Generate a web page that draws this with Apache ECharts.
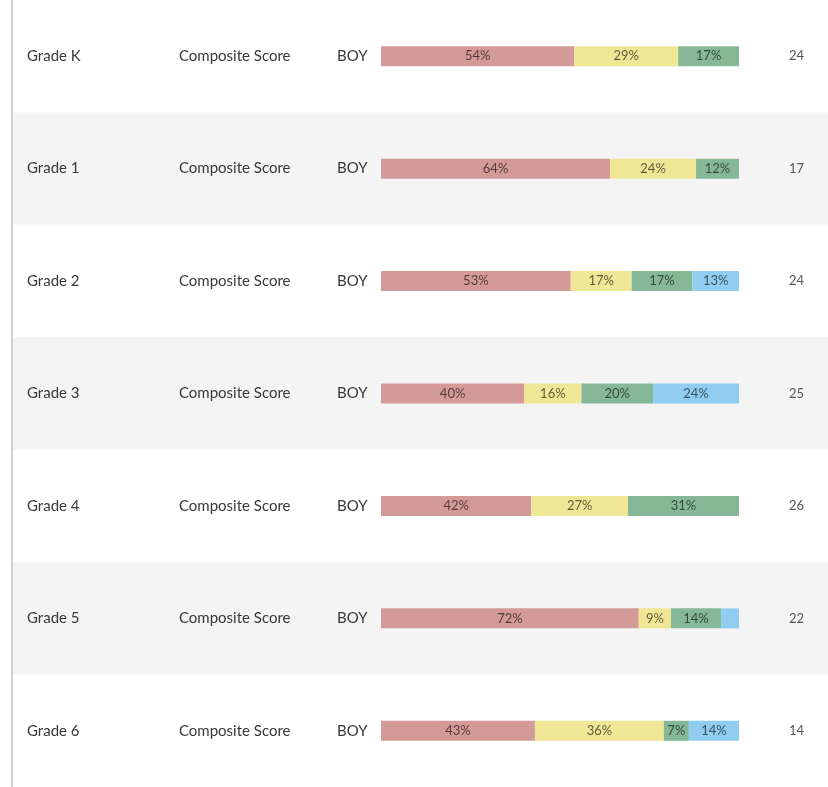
<!DOCTYPE html>
<html>
<head>
<meta charset="utf-8">
<script src="https://cdn.jsdelivr.net/npm/echarts@6/dist/echarts.min.js"></script>
<style>
  html, body { margin: 0; padding: 0; background: #fff; }
  #main { width: 828px; height: 787px; }
</style>
</head>
<body>
<div id="main"></div>
<script>
// rows of the table
const grades = ["Grade K", "Grade 1", "Grade 2", "Grade 3", "Grade 4", "Grade 5", "Grade 6"];
const measures = ["Composite Score", "Composite Score", "Composite Score", "Composite Score", "Composite Score", "Composite Score", "Composite Score"];
const periods = ["BOY", "BOY", "BOY", "BOY", "BOY", "BOY", "BOY"];
const counts = ["24", "17", "24", "25", "26", "22", "14"];

// percentage per level
const redVals = [54, 64, 53, 40, 42, 72, 43];
const yellowVals = [29, 24, 17, 16, 27, 9, 36];
const greenVals = [17, 12, 17, 20, 31, 14, 7];
const blueVals = [0, 0, 13, 24, 0, 5, 14];

const textFont = "Lato, 'Open Sans', sans-serif";

const myChart = echarts.init(document.getElementById("main"));

const labelCfg = {
  show: true,
  position: "inside",
  color: "rgba(0,0,0,0.62)",
  fontFamily: textFont,
  fontSize: 13,
  formatter: p => (p.value >= 6 ? p.value + "%" : "")
};

const mkSeries = (name, data, color) => ({
  name,
  type: "bar",
  stack: "total",
  xAxisIndex: 1,
  yAxisIndex: 1,
  barWidth: 20,
  data,
  itemStyle: { color },
  label: labelCfg,
  emphasis: { disabled: true }
});

// y axis used only to print a text column
const textAxis = (data, margin, position, color, size) => ({
  type: "category",
  gridIndex: 1,
  inverse: true,
  position,
  data,
  axisLine: { show: false },
  axisTick: { show: false },
  axisLabel: {
    margin,
    align: "left",
    color,
    fontFamily: textFont,
    fontSize: size
  }
});

const option = {
  animation: false,
  backgroundColor: "#fff",
  graphic: [
    {
      type: "rect",
      shape: { x: 11, y: 0, width: 2, height: 787 },
      style: { fill: "#d0d0d0" },
      silent: true
    },
    {
      type: "rect",
      shape: { x: 13, y: 3, width: 815, height: 1 },
      style: { fill: "#f0f0f0" },
      silent: true
    }
  ],
  grid: [
    { left: 13, right: 0, top: 0, height: 790 },
    { left: 381, right: 89, top: 0, height: 790 }
  ],
  xAxis: [
    { type: "value", gridIndex: 0, show: false, min: 0, max: 100 },
    { type: "value", gridIndex: 1, show: false, min: 0, max: 100 }
  ],
  yAxis: [
    {
      type: "category",
      gridIndex: 0,
      inverse: true,
      data: grades,
      axisLine: { show: false },
      axisTick: { show: false },
      axisLabel: { show: false },
      splitArea: { show: true, interval: 0, areaStyle: { color: ["#ffffff", "#f4f4f4"] } }
    },
    textAxis(grades, 354, "left", "#383838", 15),
    textAxis(measures, 202, "left", "#383838", 15),
    textAxis(periods, 44, "left", "#383838", 15),
    textAxis(counts, 50, "right", "#555", 13)
  ],
  series: [
    mkSeries("Red", redVals, "#d49a98"),
    mkSeries("Yellow", yellowVals, "#f0e796"),
    mkSeries("Green", greenVals, "#86b897"),
    mkSeries("Blue", blueVals, "#90cdf0")
  ]
};

myChart.setOption(option);
window.onresize = () => myChart.resize();
</script>
</body>
</html>
